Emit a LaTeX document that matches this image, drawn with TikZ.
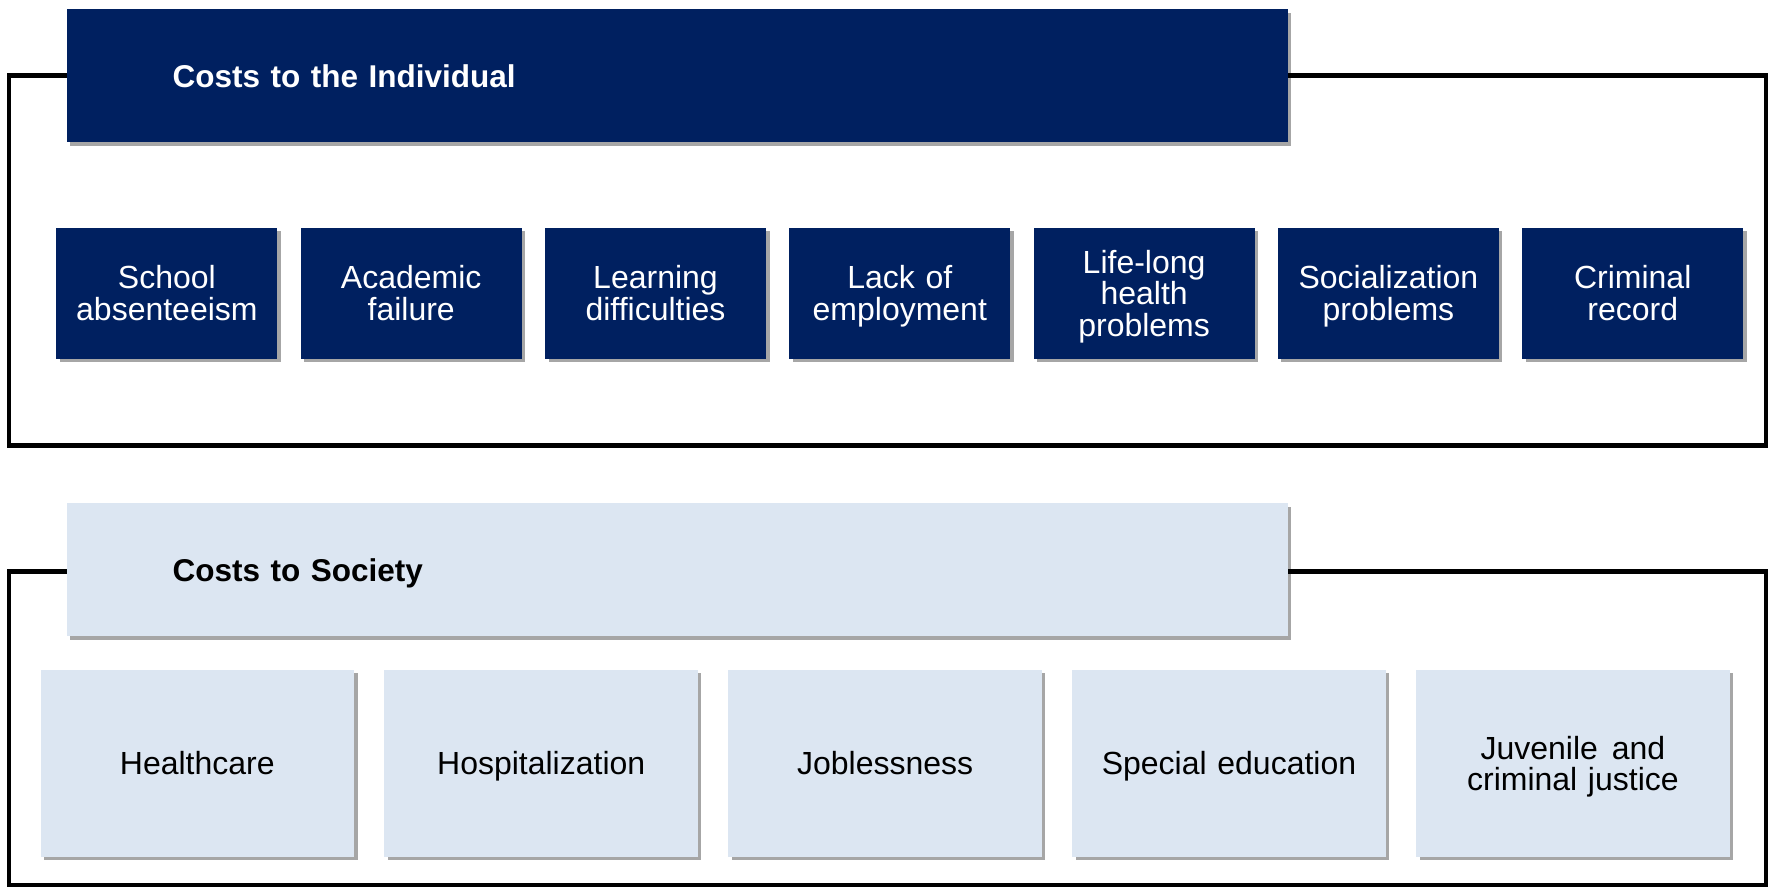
\documentclass[tikz,border=0pt]{standalone}
\usepackage{fontspec}
\setmainfont{Liberation Sans}
\usetikzlibrary{shadows}
\definecolor{navy}{HTML}{002060}
\definecolor{pale}{HTML}{DCE6F2}
\newcommand\topst{\rule{0pt}{30pt}}
\newcommand\botst{\rule[-7pt]{0pt}{7pt}}
\begin{document}
\begin{tikzpicture}[x=1pt,y=-1pt,
  frame/.style={draw=black,line width=4.5pt},
  shad/.style={drop shadow={shadow xshift=3.5pt,shadow yshift=-3.5pt,fill=black,opacity=0.35}},
  head/.style={shad,anchor=north west,minimum height=133pt,text width=1009pt,inner xsep=106pt,inner ysep=0pt,align=left,font=\fontsize{31.5}{31.6}\selectfont\bfseries},
  ibox/.style={shad,fill=navy,text=white,minimum width=221pt,minimum height=131pt,text width=210pt,align=center,inner sep=0pt,font=\fontsize{32}{31.6}\selectfont},
  sbox/.style={shad,fill=pale,text=black,minimum width=313.5pt,minimum height=187pt,text width=300pt,align=center,inner sep=0pt,font=\fontsize{32}{31.6}\selectfont}]
\useasboundingbox (0,0) rectangle (1768,888);
% top section
\draw[frame] (9,75.5) rectangle (1766,445.4);
\node[head,fill=navy,text=white] (h1) at (66.5,8.9) {\topst Costs to the Individual\botst};
\node[ibox] (i1) at (166.9,293.2) {\topst School\\absenteeism\botst};
\node[ibox] (i2) at (411.2,293.2) {\topst Academic\\failure\botst};
\node[ibox] (i3) at (655.5,293.2) {\topst Learning\\difficulties\botst};
\node[ibox] (i4) at (899.8,293.2) {\topst Lack of\\employment\botst};
\node[ibox] (i5) at (1144.1,293.2) {\topst Life-long\\health\\problems\botst};
\node[ibox] (i6) at (1388.4,293.2) {\topst Socialization\\problems\botst};
\node[ibox] (i7) at (1632.7,293.2) {\topst Criminal\\record\botst};
% bottom section
\draw[frame] (9,571.7) rectangle (1766,885.1);
\node[head,fill=pale,text=black] (h2) at (66.5,502.8) {\topst Costs to Society\botst};
\node[sbox] (s1) at (197.3,763.4) {\topst Healthcare\botst};
\node[sbox] (s2) at (541.2,763.4) {\topst Hospitalization\botst};
\node[sbox] (s3) at (885.1,763.4) {\topst Joblessness\botst};
\node[sbox] (s4) at (1229.0,763.4) {\topst Special education\botst};
\node[sbox] (s5) at (1572.9,763.4) {\topst Juvenile\hspace{14pt}and\\criminal justice\botst};
\end{tikzpicture}
\end{document}
